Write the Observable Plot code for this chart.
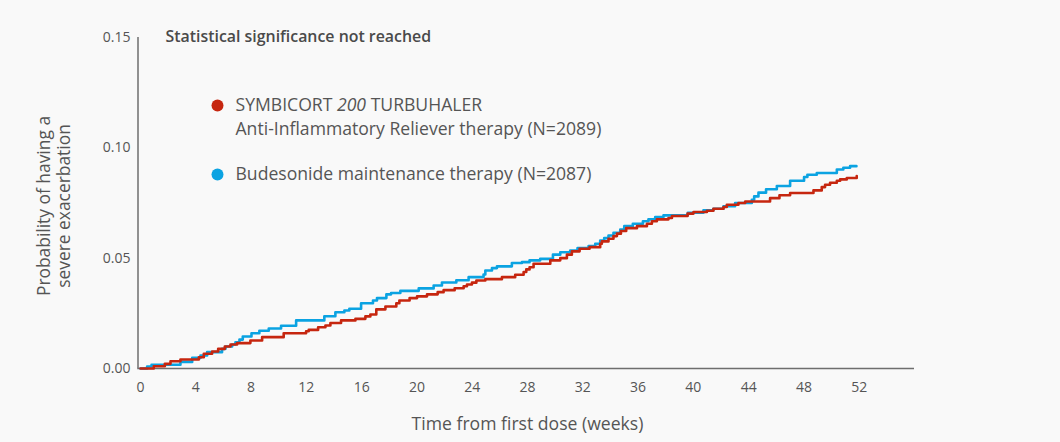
<!DOCTYPE html>
<html>
<head>
<meta charset="utf-8">
<script src="https://cdn.jsdelivr.net/npm/d3@7"></script>
<script src="https://cdn.jsdelivr.net/npm/@observablehq/plot@0.6"></script>
<style>
  html, body { margin: 0; padding: 0; background: #f9f9f9; }
  #chart svg { display: block; }
</style>
</head>
<body>
<div id="chart"></div>
<script>
// ---- Data ----
const xTicks = [0, 4, 8, 12, 16, 20, 24, 28, 32, 36, 40, 44, 48, 52];
const yTicks = [0, 0.05, 0.10, 0.15];

const symbicortName = "SYMBICORT 200 TURBUHALER";
const symbicortSub = "Anti-Inflammatory Reliever therapy (N=2089)";
const budesonideName = "Budesonide maintenance therapy (N=2087)";
const noteText = "Statistical significance not reached";
const xLabel = "Time from first dose (weeks)";
const yLabel = "Probability of having a\nsevere exacerbation";

const budesonideWeeks = [0, 0.48, 0.80, 2.89, 3.74, 4.34, 4.82, 5.9, 6.15, 6.63, 6.87, 7.16, 7.4, 8.03, 8.6, 9.28, 10.17, 11.26, 13.3, 14.1, 14.75, 15.11, 15.96, 16.82, 17.11, 17.79, 18.13, 18.8, 20.13, 21.21, 21.81, 22.85, 23.74, 24.82, 24.95, 25.43, 25.79, 26.87, 27.6, 28.15, 28.92, 29.84, 30.37, 31.09, 31.62, 32.42, 32.9, 33.26, 33.55, 33.86, 34.22, 34.71, 35.0, 35.62, 36.35, 36.75, 37.24, 37.84, 39.6, 40.73, 41.45, 42.18, 43.02, 44.23, 44.4, 44.71, 45.26, 46.04, 47.0, 48.01, 48.25, 48.93, 50.38, 50.85, 51.34, 51.8];
const budesonideValues = [0, 0.0009, 0.0017, 0.0030, 0.0048, 0.0059, 0.0074, 0.0089, 0.0100, 0.0109, 0.0119, 0.0131, 0.0145, 0.0160, 0.0171, 0.0181, 0.0194, 0.0218, 0.0237, 0.0255, 0.0263, 0.0271, 0.0296, 0.0308, 0.0319, 0.0336, 0.0342, 0.0352, 0.0363, 0.0376, 0.0390, 0.0400, 0.0414, 0.0426, 0.0444, 0.0455, 0.0463, 0.0478, 0.0482, 0.0490, 0.0497, 0.0516, 0.0527, 0.0535, 0.0546, 0.0555, 0.0565, 0.0580, 0.0591, 0.0603, 0.0615, 0.0630, 0.0645, 0.0656, 0.0667, 0.0676, 0.0686, 0.0694, 0.0706, 0.0717, 0.0724, 0.0735, 0.0750, 0.0765, 0.0780, 0.0797, 0.0812, 0.0827, 0.0851, 0.0868, 0.0878, 0.0886, 0.0902, 0.0910, 0.0917, 0.0917];

const symbicortWeeks = [0, 0.96, 1.76, 2.17, 2.89, 4.22, 4.58, 5.18, 5.62, 6.1, 6.51, 6.99, 7.95, 8.8, 10.36, 11.98, 12.17, 12.85, 13.38, 13.74, 14.51, 15.55, 16.27, 16.63, 17.06, 17.72, 18.51, 18.73, 19.47, 20.01, 20.73, 21.5, 21.93, 22.73, 23.38, 23.62, 23.98, 24.3, 24.95, 26.15, 27.11, 27.72, 27.91, 28.15, 28.44, 29.65, 30.37, 30.85, 31.21, 31.77, 32.49, 33.26, 33.38, 33.86, 34.22, 34.47, 34.76, 35.14, 35.92, 36.64, 37.0, 37.36, 38.2, 38.45, 39.58, 40.01, 40.98, 41.45, 42.18, 42.42, 43.26, 43.75, 45.55, 46.23, 47.0, 48.69, 49.29, 49.53, 49.89, 50.38, 50.62, 51.1, 51.82];
const symbicortValues = [0, 0.0010, 0.0021, 0.0033, 0.0041, 0.0051, 0.0067, 0.0077, 0.0089, 0.0100, 0.0109, 0.0115, 0.0127, 0.0142, 0.0160, 0.0169, 0.0175, 0.0187, 0.0195, 0.0206, 0.0218, 0.0225, 0.0236, 0.0245, 0.0268, 0.0281, 0.0296, 0.0308, 0.0319, 0.0327, 0.0336, 0.0346, 0.0355, 0.0364, 0.0373, 0.0381, 0.0389, 0.0399, 0.0405, 0.0414, 0.0425, 0.0437, 0.0449, 0.0459, 0.0475, 0.0490, 0.0500, 0.0516, 0.0531, 0.0543, 0.0550, 0.0565, 0.0576, 0.0588, 0.0600, 0.0611, 0.0623, 0.0636, 0.0645, 0.0656, 0.0667, 0.0676, 0.0682, 0.0691, 0.0702, 0.0709, 0.0715, 0.0724, 0.0732, 0.0742, 0.0750, 0.0757, 0.0772, 0.0785, 0.0795, 0.0807, 0.0822, 0.0833, 0.0842, 0.0851, 0.0857, 0.0863, 0.0872];

const RED = "#c6260f";
const BLUE = "#0ba3e2";
const GREY = "#555555";
const FONT = "'Open Sans', 'Noto Sans', sans-serif";

// ---- Build tables for the library ----
const budesonide = budesonideWeeks.map((w, i) => ({week: w, p: budesonideValues[i]}));
const symbicort = symbicortWeeks.map((w, i) => ({week: w, p: symbicortValues[i]}));

const chart = Plot.plot({
  width: 1060,
  height: 442,
  marginLeft: 140,
  marginRight: 146,
  marginTop: 37,
  marginBottom: 74,
  style: {background: "#f9f9f9", fontFamily: FONT, color: GREY, overflow: "visible"},
  x: {domain: [0, 56]},
  y: {domain: [0, 0.15]},
  marks: [
    Plot.axisX({ticks: xTicks, tickSize: 0, tickPadding: 14, fontSize: 14, label: null, fill: GREY}),
    Plot.axisY({ticks: yTicks, tickSize: 0, tickPadding: 10, fontSize: 14, label: null, tickFormat: d3.format(".2f"), fill: GREY}),
    Plot.ruleY([0], {stroke: "#6e6e6e", strokeWidth: 1.5, x1: -0.2, x2: 56}),
    Plot.ruleX([0], {stroke: "#6e6e6e", strokeWidth: 1.5, dx: -2.5, y1: 0, y2: 0.15}),
    Plot.line(budesonide, {x: "week", y: "p", curve: "step-after", stroke: BLUE, strokeWidth: 2.6}),
    Plot.line(symbicort, {x: "week", y: "p", curve: "step-after", stroke: RED, strokeWidth: 2.6}),
    Plot.text([noteText], {frameAnchor: "top-left", dx: 25, dy: -1, lineAnchor: "middle", fontSize: 15.9, fontWeight: 600, fill: "#4a4a4a", textAnchor: "start"}),
    Plot.dot([symbicortName], {frameAnchor: "top-left", dx: 77, dy: 68, r: 6, fill: RED, stroke: null}),
    Plot.text([symbicortName], {frameAnchor: "top-left", dx: 95, dy: 68, lineAnchor: "middle", fontSize: 17.6, fill: GREY, textAnchor: "start", className: "symb-name"}),
    Plot.text([symbicortSub], {frameAnchor: "top-left", dx: 95, dy: 92, lineAnchor: "middle", fontSize: 17.6, fill: GREY, textAnchor: "start"}),
    Plot.dot([budesonideName], {frameAnchor: "top-left", dx: 77, dy: 137, r: 6, fill: BLUE, stroke: null}),
    Plot.text([budesonideName], {frameAnchor: "top-left", dx: 95, dy: 137, lineAnchor: "middle", fontSize: 17.6, fill: GREY, textAnchor: "start"}),
    Plot.text([xLabel], {frameAnchor: "bottom", dy: 56, lineAnchor: "middle", fontSize: 17.6, fill: GREY}),
    Plot.text([yLabel], {frameAnchor: "left", dx: -87, dy: 3, rotate: -90, textAnchor: "middle", lineAnchor: "middle", fontSize: 17.4, lineHeight: 1.15, fill: GREY})
  ]
});

document.getElementById("chart").appendChild(chart);

// Italicise "200" in the product name
d3.select(chart).selectAll(".symb-name text").each(function() {
  const t = d3.select(this);
  const full = t.text();
  const idx = full.indexOf("200");
  if (idx < 0) return;
  t.text(null);
  t.append("tspan").text(full.slice(0, idx));
  t.append("tspan").attr("font-style", "italic").text("200");
  t.append("tspan").text(full.slice(idx + 3));
});
</script>
</body>
</html>
